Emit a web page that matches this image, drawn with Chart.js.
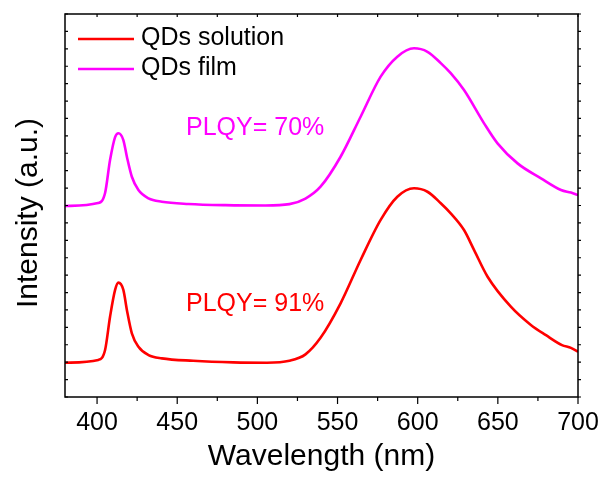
<!DOCTYPE html>
<html>
<head>
<meta charset="utf-8">
<script src="https://cdn.jsdelivr.net/npm/chart.js@4.4.0/dist/chart.umd.min.js"></script>
<style>
    body { margin: 0; background: #fff; }
    #contenedor { width: 603px; height: 477px; }
</style>
</head>
<body>
<div id="contenedor"><canvas id="graficoPL"></canvas></div>
<script>
// Longitud de onda (nm) e intensidad (u.a., con desplazamiento vertical)
const solucionX = [380, 400.8, 405, 408.1, 411.25, 413.3, 416.4, 418.6, 421.7, 425.8,
    432.1, 440.4, 460, 485, 506, 520, 530, 539.4,
    551.9, 564.4, 576.9, 587.3, 597.7, 606.1, 614.4, 620.6, 628.9, 635.2,
    643.6, 658.1, 670.6, 680, 690, 695.6, 700];
const solucionY = [1.97, 2.13, 2.70, 4.61, 6.15, 6.57, 6.15, 5.00, 3.66, 2.89,
    2.41, 2.22, 2.08, 1.99, 1.97, 2.08, 2.45, 3.40,
    5.38, 7.87, 10.17, 11.50, 11.99, 11.79, 11.13, 10.55, 9.59, 8.44,
    6.91, 5.19, 4.14, 3.55, 2.98, 2.82, 2.60];

const peliculaX = [380, 400.6, 405, 408.1, 411.25, 413.3, 416.4, 418.6, 421.7, 425.8,
    432.1, 440.4, 456.9, 480, 505, 520, 530, 539.4, 551.9, 564.4,
    576.9, 587.3, 597.7, 606.1, 614.4, 620.6, 628.9, 641.4, 649.8,
    662.3, 676.9, 689.4, 695.6, 700];
const peliculaY = [10.97, 11.14, 11.72, 13.61, 14.93, 15.15, 14.76, 13.80, 12.65, 11.89,
    11.41, 11.22, 11.09, 11.02, 11.0, 11.08, 11.40, 12.08, 13.80, 16.10,
    18.40, 19.55, 20.03, 19.83, 19.18, 18.60, 17.63, 15.72, 14.57,
    13.42, 12.56, 11.89, 11.74, 11.60];

const etiquetasX = [400, 450, 500, 550, 600, 650, 700];
const nombres = ['QDs solution', 'QDs film'];
const colores = ['#ff0000', '#ff00ff'];

// anotaciones PLQY (posicion en unidades de datos)
const textosPLQY = ['PLQY= 91%', 'PLQY= 70%'];
const plqyX = [455.5, 455.5];
const plqyY = [5.34, 15.43];

const fuente = "'Liberation Sans', Arial, sans-serif";

const marco = {
    id: 'marco',
    afterDraw(chart) {
        const { ctx, chartArea: a, scales: { x, y } } = chart;
        ctx.save();
        ctx.strokeStyle = '#000';
        ctx.lineWidth = 1.5;
        ctx.strokeRect(a.left, a.top, a.right - a.left, a.bottom - a.top);

        // marcas de los ejes
        const mayores = x.ticks.map(t => t.value);
        const menores = mayores.slice(1).map((v, i) => (v + mayores[i]) / 2);
        ctx.lineWidth = 1.2;
        ctx.beginPath();
        mayores.forEach(v => {
            const px = x.getPixelForValue(v);
            ctx.moveTo(px, a.bottom); ctx.lineTo(px, a.bottom + 7);
            ctx.moveTo(px, a.top); ctx.lineTo(px, a.top + 3);
        });
        menores.forEach(v => {
            const px = x.getPixelForValue(v);
            ctx.moveTo(px, a.bottom); ctx.lineTo(px, a.bottom + 4);
            ctx.moveTo(px, a.top); ctx.lineTo(px, a.top + 3);
        });
        y.ticks.forEach(t => {
            const py = y.getPixelForValue(t.value);
            ctx.moveTo(a.left, py); ctx.lineTo(a.left + 3, py);
            ctx.moveTo(a.right, py); ctx.lineTo(a.right + 3, py);
        });
        ctx.stroke();

        // titulo del eje y
        ctx.save();
        ctx.translate(29, 213);
        ctx.rotate(-Math.PI / 2);
        ctx.font = '30px ' + fuente;
        ctx.fillStyle = '#000';
        ctx.textAlign = 'center';
        ctx.textBaseline = 'middle';
        ctx.fillText('Intensity (a.u.)', 0, 0);
        ctx.restore();

        // leyenda
        ctx.font = '25px ' + fuente;
        ctx.textBaseline = 'middle';
        ctx.textAlign = 'left';
        chart.data.datasets.forEach((ds, i) => {
            const ly = a.top + 25 + i * 30;
            ctx.strokeStyle = ds.borderColor;
            ctx.lineWidth = ds.borderWidth;
            ctx.beginPath();
            ctx.moveTo(a.left + 13, ly);
            ctx.lineTo(a.left + 69, ly);
            ctx.stroke();
            ctx.fillStyle = '#000';
            ctx.fillText(ds.label, a.left + 76, ly - 0.5);
        });

        // textos PLQY
        textosPLQY.forEach((t, i) => {
            ctx.fillStyle = colores[i];
            ctx.fillText(t, x.getPixelForValue(plqyX[i]), y.getPixelForValue(plqyY[i]));
        });
        ctx.restore();
    }
};

const ctx = document.getElementById('graficoPL').getContext('2d');
new Chart(ctx, {
    type: 'line',
    data: {
        datasets: [
            {
                label: nombres[0],
                data: solucionX.map((v, i) => ({ x: v, y: solucionY[i] })),
                borderColor: colores[0],
                borderWidth: 2.6,
                pointRadius: 0,
                cubicInterpolationMode: 'monotone',
                fill: false
            },
            {
                label: nombres[1],
                data: peliculaX.map((v, i) => ({ x: v, y: peliculaY[i] })),
                borderColor: colores[1],
                borderWidth: 2.6,
                pointRadius: 0,
                cubicInterpolationMode: 'monotone',
                fill: false
            }
        ]
    },
    options: {
        responsive: true,
        maintainAspectRatio: false,
        animation: false,
        devicePixelRatio: 1,
        layout: { padding: { top: 14, right: 25, left: 0, bottom: 0 } },
        plugins: {
            legend: { display: false },
            tooltip: { enabled: false }
        },
        scales: {
            x: {
                type: 'linear',
                min: 380,
                max: 700,
                grid: { display: false, drawTicks: false },
                border: { display: false },
                afterBuildTicks: s => { s.ticks = etiquetasX.map(v => ({ value: v })); },
                afterFit: s => {
                    s.height = 80;
                    s.paddingLeft = 0;
                    s.paddingRight = 0;
                },
                ticks: {
                    color: '#000',
                    font: { family: fuente, size: 25 },
                    padding: 11,
                    maxRotation: 0,
                    autoSkip: false
                },
                title: {
                    display: true,
                    text: 'Wavelength (nm)',
                    color: '#000',
                    font: { family: fuente, size: 30 },
                    padding: { top: 0, bottom: 2 }
                }
            },
            y: {
                type: 'linear',
                min: 0,
                max: 22,
                grid: { display: false, drawTicks: false },
                border: { display: false },
                afterFit: s => { s.width = 65; },
                ticks: { display: false, stepSize: 1 },
                title: { display: false }
            }
        }
    },
    plugins: [marco]
});
</script>
</body>
</html>
